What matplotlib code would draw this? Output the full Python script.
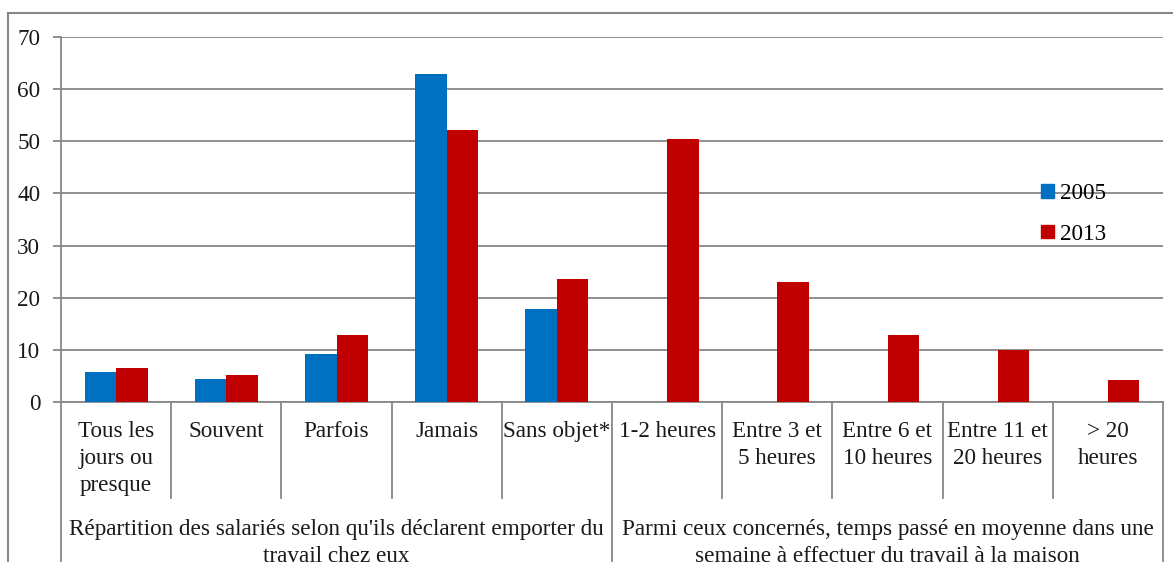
import numpy as np
import matplotlib
matplotlib.use("Agg")
import matplotlib.pyplot as plt
from matplotlib.lines import Line2D
from matplotlib.patches import Patch

categories = [
    "Tous les\njours ou\npresque",
    "Souvent",
    "Parfois",
    "Jamais",
    "Sans objet*",
    "1-2 heures",
    "Entre 3 et\n5 heures",
    "Entre 6 et\n10 heures",
    "Entre 11 et\n20 heures",
    "> 20\nheures",
]
groups = [
    "Répartition des salariés selon qu'ils déclarent emporter du\ntravail chez eux",
    "Parmi ceux concernés, temps passé en moyenne dans une\nsemaine à effectuer du travail à la maison",
]
group_sizes = [5, 5]
values_2005 = [5.7, 4.4, 9.3, 62.9, 17.8, np.nan, np.nan, np.nan, np.nan, np.nan]
values_2013 = [6.5, 5.2, 12.9, 52.1, 23.5, 50.5, 23.0, 12.8, 10.0, 4.2]
series_labels = ["2005", "2013"]

BLUE = "#0070C0"
RED = "#C00000"
GREY = "#878787"
TEXT = "#1a1a1a"
FS = 16.7
LINE_PX = 27  # distance between baselines of wrapped axis labels

plt.rcParams["font.family"] = ["Liberation Serif", "DejaVu Serif"]
plt.rcParams["font.size"] = FS

W, H = 1173, 562
fig = plt.figure(figsize=(W / 100, H / 100), dpi=100)

# plot area placed in pixel terms
left_px, right_px, top_px, bottom_px = 61, 1163, 37, 402
ax = fig.add_axes([left_px / W, 1 - bottom_px / H,
                   (right_px - left_px) / W, (bottom_px - top_px) / H])

n = len(categories)
x = np.arange(n)
bar_w = 1 / 3.5
ax.bar(x - bar_w / 2, values_2005, bar_w, color=BLUE, zorder=3)
ax.bar(x + bar_w / 2, values_2013, bar_w, color=RED, zorder=3)

ax.set_xlim(-0.5, n - 0.5)
ax.set_ylim(0, 70)
ax.set_yticks(range(0, 71, 10))
ax.yaxis.grid(True, color=GREY, linewidth=1.3, zorder=0)
ax.set_axisbelow(True)
ax.set_xticks([])
for side in ("top", "right"):
    ax.spines[side].set_visible(False)
for side in ("left", "bottom"):
    ax.spines[side].set_color(GREY)
    ax.spines[side].set_linewidth(1.3)
ax.tick_params(axis="y", length=6, width=1.3, color=GREY, pad=9,
               labelcolor=TEXT, labelsize=FS)

# two-level category axis below the plot
px = 1.0 / (bottom_px - top_px)
trans = ax.get_xaxis_transform()
sep_low = -(498 - bottom_px) * px
far_low = -1.0
boundaries = np.arange(n + 1) - 0.5
group_edges = np.cumsum([0] + group_sizes) - 0.5
for b in boundaries:
    low = far_low if b in group_edges else sep_low
    ax.plot([b, b], [0, low], transform=trans, color=GREY, lw=1.3,
            clip_on=False, zorder=1)


def stacked_label(xpos, first_baseline, text):
    for k, line in enumerate(text.split("\n")):
        y = -(first_baseline + k * LINE_PX - bottom_px) * px
        ax.text(xpos, y, line, transform=trans, ha="center", va="baseline",
                fontsize=FS, color=TEXT, clip_on=False)


for i, label in enumerate(categories):
    stacked_label(i, 437, label)

start = 0
for name, size in zip(groups, group_sizes):
    stacked_label(start + (size - 1) / 2, 535, name)
    start += size

# outer chart frame, running off the right and bottom edges
fig.add_artist(Line2D([8 / W, 1.05], [1 - 13 / H] * 2, transform=fig.transFigure,
                      color=GREY, lw=1.5))
fig.add_artist(Line2D([8 / W] * 2, [1 - 13 / H, -0.05], transform=fig.transFigure,
                      color=GREY, lw=1.5))

handles = [Patch(color=BLUE), Patch(color=RED)]
ax.legend(handles, series_labels, loc="upper left", frameon=False,
          bbox_to_anchor=((1041 - left_px) / (right_px - left_px),
                          1 - (183 - top_px) * px),
          handlelength=0.55, handleheight=0.55, handletextpad=0.25,
          labelspacing=0.85, fontsize=FS, borderaxespad=0, borderpad=0)

fig.savefig("out.png", dpi=100)
